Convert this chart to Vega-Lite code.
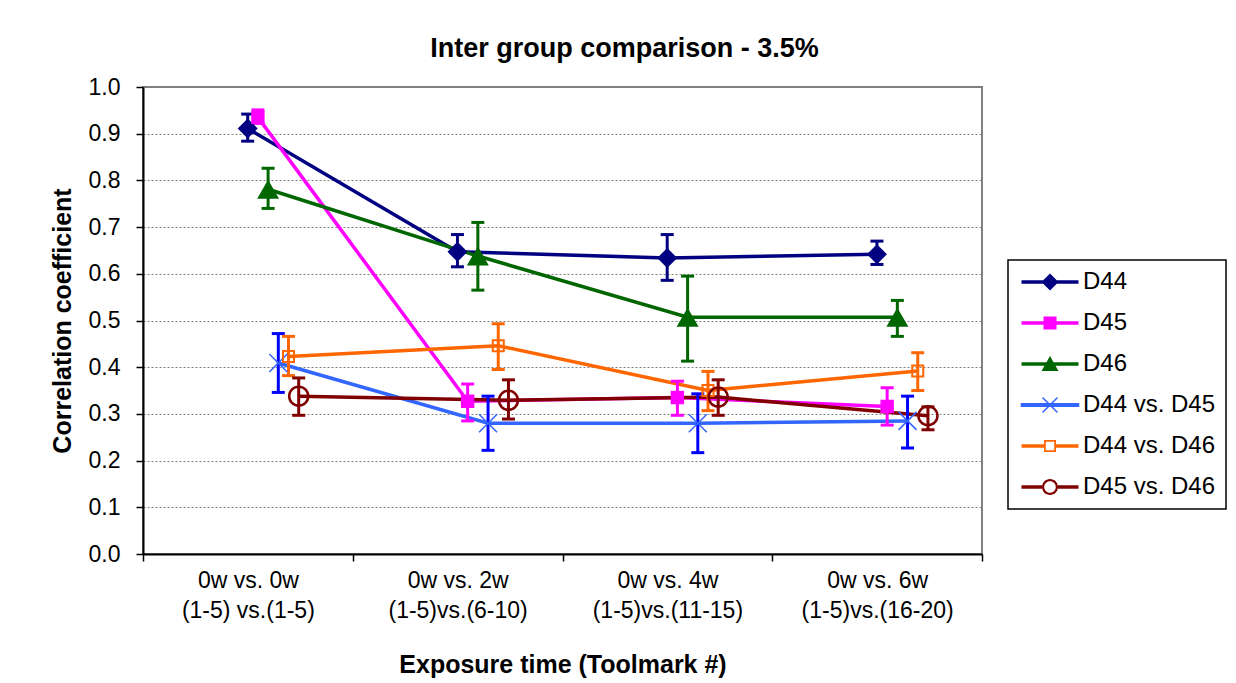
{
  "$schema": "https://vega.github.io/schema/vega-lite/v6.json",
  "autosize": "none",
  "width": 839,
  "height": 467,
  "padding": {"left": 143, "top": 87, "right": 254, "bottom": 129},
  "background": "white",
  "title": {
    "text": "Inter group comparison - 3.5%",
    "font": "Liberation Sans",
    "fontSize": 27,
    "fontWeight": "bold",
    "color": "black",
    "anchor": "middle",
    "frame": "group",
    "baseline": "alphabetic",
    "offset": -8,
    "dx": 62
  },
  "data": {
    "values": [
      {"series": "D44", "time": "0w vs. 0w\n(1-5) vs.(1-5)", "r": 0.911, "lo": 0.884, "hi": 0.942},
      {"series": "D44", "time": "0w vs. 2w\n(1-5)vs.(6-10)", "r": 0.647, "lo": 0.615, "hi": 0.684},
      {"series": "D44", "time": "0w vs. 4w\n(1-5)vs.(11-15)", "r": 0.634, "lo": 0.586, "hi": 0.684},
      {"series": "D44", "time": "0w vs. 6w\n(1-5)vs.(16-20)", "r": 0.642, "lo": 0.620, "hi": 0.670},
      {"series": "D45", "time": "0w vs. 0w\n(1-5) vs.(1-5)", "r": 0.935, "lo": 0.922, "hi": 0.951},
      {"series": "D45", "time": "0w vs. 2w\n(1-5)vs.(6-10)", "r": 0.327, "lo": 0.285, "hi": 0.364},
      {"series": "D45", "time": "0w vs. 4w\n(1-5)vs.(11-15)", "r": 0.335, "lo": 0.297, "hi": 0.370},
      {"series": "D45", "time": "0w vs. 6w\n(1-5)vs.(16-20)", "r": 0.316, "lo": 0.276, "hi": 0.356},
      {"series": "D46", "time": "0w vs. 0w\n(1-5) vs.(1-5)", "r": 0.781, "lo": 0.740, "hi": 0.826},
      {"series": "D46", "time": "0w vs. 2w\n(1-5)vs.(6-10)", "r": 0.638, "lo": 0.565, "hi": 0.710},
      {"series": "D46", "time": "0w vs. 4w\n(1-5)vs.(11-15)", "r": 0.507, "lo": 0.413, "hi": 0.595},
      {"series": "D46", "time": "0w vs. 6w\n(1-5)vs.(16-20)", "r": 0.507, "lo": 0.466, "hi": 0.543},
      {"series": "D44 vs. D45", "time": "0w vs. 0w\n(1-5) vs.(1-5)", "r": 0.409, "lo": 0.346, "hi": 0.472},
      {"series": "D44 vs. D45", "time": "0w vs. 2w\n(1-5)vs.(6-10)", "r": 0.280, "lo": 0.222, "hi": 0.338},
      {"series": "D44 vs. D45", "time": "0w vs. 4w\n(1-5)vs.(11-15)", "r": 0.280, "lo": 0.217, "hi": 0.343},
      {"series": "D44 vs. D45", "time": "0w vs. 6w\n(1-5)vs.(16-20)", "r": 0.285, "lo": 0.227, "hi": 0.338},
      {"series": "D44 vs. D46", "time": "0w vs. 0w\n(1-5) vs.(1-5)", "r": 0.423, "lo": 0.382, "hi": 0.466},
      {"series": "D44 vs. D46", "time": "0w vs. 2w\n(1-5)vs.(6-10)", "r": 0.446, "lo": 0.395, "hi": 0.493},
      {"series": "D44 vs. D46", "time": "0w vs. 4w\n(1-5)vs.(11-15)", "r": 0.350, "lo": 0.307, "hi": 0.391},
      {"series": "D44 vs. D46", "time": "0w vs. 6w\n(1-5)vs.(16-20)", "r": 0.392, "lo": 0.350, "hi": 0.431},
      {"series": "D45 vs. D46", "time": "0w vs. 0w\n(1-5) vs.(1-5)", "r": 0.338, "lo": 0.297, "hi": 0.377},
      {"series": "D45 vs. D46", "time": "0w vs. 2w\n(1-5)vs.(6-10)", "r": 0.329, "lo": 0.289, "hi": 0.373},
      {"series": "D45 vs. D46", "time": "0w vs. 4w\n(1-5)vs.(11-15)", "r": 0.336, "lo": 0.297, "hi": 0.373},
      {"series": "D45 vs. D46", "time": "0w vs. 6w\n(1-5)vs.(16-20)", "r": 0.296, "lo": 0.266, "hi": 0.315}
    ]
  },
  "encoding": {
    "x": {
      "field": "time",
      "type": "nominal",
      "sort": null,
      "title": "Exposure time (Toolmark #)",
      "scale": {"paddingInner": 0, "paddingOuter": 0},
      "axis": {
        "labelAngle": 0,
        "labelExpr": "split(datum.label, '\\n')",
        "labelFontSize": 23,
        "labelLineHeight": 30,
        "labelPadding": 8,
        "labelLimit": 300,
        "tickBand": "extent",
        "tickSize": 7,
        "tickWidth": 1.5,
        "titlePadding": 30
      }
    },
    "xOffset": {
      "field": "series",
      "type": "nominal",
      "sort": null,
      "scale": {
        "domain": ["D44", "D45", "D46", "D44 vs. D45", "D44 vs. D46", "D45 vs. D46"],
        "range": [99.6, 160.8],
        "paddingInner": 0,
        "paddingOuter": 0
      }
    }
  },
  "layer": [
    {
      "mark": {"type": "line", "strokeWidth": 3.5},
      "encoding": {
        "y": {
          "field": "r",
          "type": "quantitative",
          "title": "Correlation coefficient",
          "scale": {"domain": [0, 1], "nice": false},
          "axis": {
            "values": [0, 0.1, 0.2, 0.3, 0.4, 0.5, 0.6, 0.7, 0.8, 0.9, 1.0],
            "format": ".1f",
            "grid": true,
            "gridColor": "#808080",
            "gridDash": [2, 2],
            "gridWidth": 1,
            "labelFontSize": 23,
            "labelPadding": 16,
            "tickSize": 7,
            "tickWidth": 1.5,
            "titlePadding": 13
          }
        },
        "color": {
          "field": "series",
          "type": "nominal",
          "scale": {
            "domain": ["D44", "D45", "D46", "D44 vs. D45", "D44 vs. D46", "D45 vs. D46"],
            "range": ["#000080", "#FF00FF", "#006600", "#3366FF", "#FF6600", "#800000"]
          },
          "legend": {
            "title": null,
            "orient": "none",
            "legendX": 865,
            "legendY": 173,
            "symbolSize": 400,
            "symbolOffset": 20,
            "labelOffset": 21,
            "padding": 10,
            "rowPadding": 17,
            "labelFont": "Liberation Sans",
            "labelFontSize": 24,
            "labelColor": "black",
            "strokeColor": "black",
            "fillColor": "white",
            "encode": {
              "legend": {"update": {"strokeWidth": {"value": 1.5}}},
              "symbols": {
                "update": {
                  "shape": {"signal": "datum.value === 'D44' ? 'M-2.85,-0.18H2.85V0.18H-2.85ZM-0.85,0L0,-0.85L0.85,0L0,0.85Z' : datum.value === 'D45' ? 'M-2.85,-0.18H2.85V0.18H-2.85ZM-0.65,-0.65H0.65V0.65H-0.65Z' : datum.value === 'D46' ? 'M-2.85,-0.18H2.85V0.18H-2.85ZM0,-0.8L0.85,0.7H-0.85Z' : datum.value === 'D44 vs. D45' ? 'M-2.85,-0.12H2.85V0.12H-2.85ZM-0.75,-0.75L0.75,0.75M-0.75,0.75L0.75,-0.75' : datum.value === 'D44 vs. D46' ? 'M-2.85,-0.18H-0.6V0.18H-2.85ZM0.6,-0.18H2.85V0.18H0.6ZM-0.6,-0.6H0.6V0.6H-0.6ZM-0.42,-0.42V0.42H0.42V-0.42Z' : 'M-2.85,-0.18H-0.8V0.18H-2.85ZM0.8,-0.18H2.85V0.18H0.8ZM-0.8,0A0.8,0.8,0,1,1,0.8,0A0.8,0.8,0,1,1,-0.8,0ZM-0.58,0A0.58,0.58,0,1,0,0.58,0A0.58,0.58,0,1,0,-0.58,0Z'"},
                  "fill": {"signal": "scale('color', datum.value)"},
                  "stroke": {"signal": "scale('color', datum.value)"},
                  "strokeWidth": {"signal": "datum.value === 'D44 vs. D45' ? 1.5 : 0"},
                  "opacity": {"value": 1},
                  "size": {"value": 400}
                }
              }
            }
          }
        }
      }
    },
    {
      "mark": {"type": "rule", "strokeWidth": 3},
      "encoding": {
        "y": {"field": "lo", "type": "quantitative", "title": "Correlation coefficient", "scale": {"domain": [0, 1], "nice": false}},
        "y2": {"field": "hi"},
        "stroke": {
          "field": "series",
          "type": "nominal",
          "scale": {
            "domain": ["D44", "D45", "D46", "D44 vs. D45", "D44 vs. D46", "D45 vs. D46"],
            "range": ["#000080", "#FF00FF", "#006600", "#0000FF", "#FF6600", "#800000"]
          },
          "legend": null
        }
      }
    },
    {
      "mark": {"type": "point", "shape": "stroke", "size": 169, "strokeWidth": 3, "opacity": 1},
      "encoding": {
        "y": {"field": "lo", "type": "quantitative", "title": "Correlation coefficient", "scale": {"domain": [0, 1], "nice": false}},
        "stroke": {"field": "series", "type": "nominal", "legend": null}
      }
    },
    {
      "mark": {"type": "point", "shape": "stroke", "size": 169, "strokeWidth": 3, "opacity": 1},
      "encoding": {
        "y": {"field": "hi", "type": "quantitative", "title": "Correlation coefficient", "scale": {"domain": [0, 1], "nice": false}},
        "stroke": {"field": "series", "type": "nominal", "legend": null}
      }
    },
    {
      "transform": [{"filter": "datum.series === 'D44'"}],
      "mark": {"type": "point", "shape": "diamond", "size": 400, "filled": true, "opacity": 1},
      "encoding": {
        "y": {"field": "r", "type": "quantitative", "title": "Correlation coefficient", "scale": {"domain": [0, 1], "nice": false}},
        "color": {"field": "series", "type": "nominal"}
      }
    },
    {
      "transform": [{"filter": "datum.series === 'D45'"}],
      "mark": {"type": "point", "shape": "square", "size": 180, "filled": true, "opacity": 1},
      "encoding": {
        "y": {"field": "r", "type": "quantitative", "title": "Correlation coefficient", "scale": {"domain": [0, 1], "nice": false}},
        "color": {"field": "series", "type": "nominal"}
      }
    },
    {
      "transform": [{"filter": "datum.series === 'D46'"}],
      "mark": {"type": "point", "shape": "triangle-up", "size": 484, "filled": true, "opacity": 1},
      "encoding": {
        "y": {"field": "r", "type": "quantitative", "title": "Correlation coefficient", "scale": {"domain": [0, 1], "nice": false}},
        "color": {"field": "series", "type": "nominal"}
      }
    },
    {
      "transform": [{"filter": "datum.series === 'D44 vs. D45'"}],
      "mark": {"type": "point", "shape": "M-1,-1L1,1M-1,1L1,-1", "size": 324, "filled": false, "strokeWidth": 1.5, "opacity": 1},
      "encoding": {
        "y": {"field": "r", "type": "quantitative", "title": "Correlation coefficient", "scale": {"domain": [0, 1], "nice": false}},
        "color": {"field": "series", "type": "nominal"}
      }
    },
    {
      "transform": [{"filter": "datum.series === 'D44 vs. D46'"}],
      "mark": {"type": "point", "shape": "square", "size": 121, "filled": false, "strokeWidth": 2, "opacity": 1},
      "encoding": {
        "y": {"field": "r", "type": "quantitative", "title": "Correlation coefficient", "scale": {"domain": [0, 1], "nice": false}},
        "color": {"field": "series", "type": "nominal"}
      }
    },
    {
      "transform": [{"filter": "datum.series === 'D45 vs. D46'"}],
      "mark": {"type": "point", "shape": "circle", "size": 361, "filled": false, "strokeWidth": 2.5, "opacity": 1},
      "encoding": {
        "y": {"field": "r", "type": "quantitative", "title": "Correlation coefficient", "scale": {"domain": [0, 1], "nice": false}},
        "color": {"field": "series", "type": "nominal"}
      }
    }
  ],
  "config": {
    "font": "Liberation Sans",
    "view": {"stroke": "#808080", "strokeWidth": 2},
    "axis": {
      "labelFont": "Liberation Sans",
      "labelColor": "black",
      "titleFont": "Liberation Sans",
      "titleFontSize": 25,
      "titleFontWeight": "bold",
      "titleColor": "black",
      "domainColor": "black",
      "domainWidth": 2,
      "tickColor": "black"
    }
  }
}
